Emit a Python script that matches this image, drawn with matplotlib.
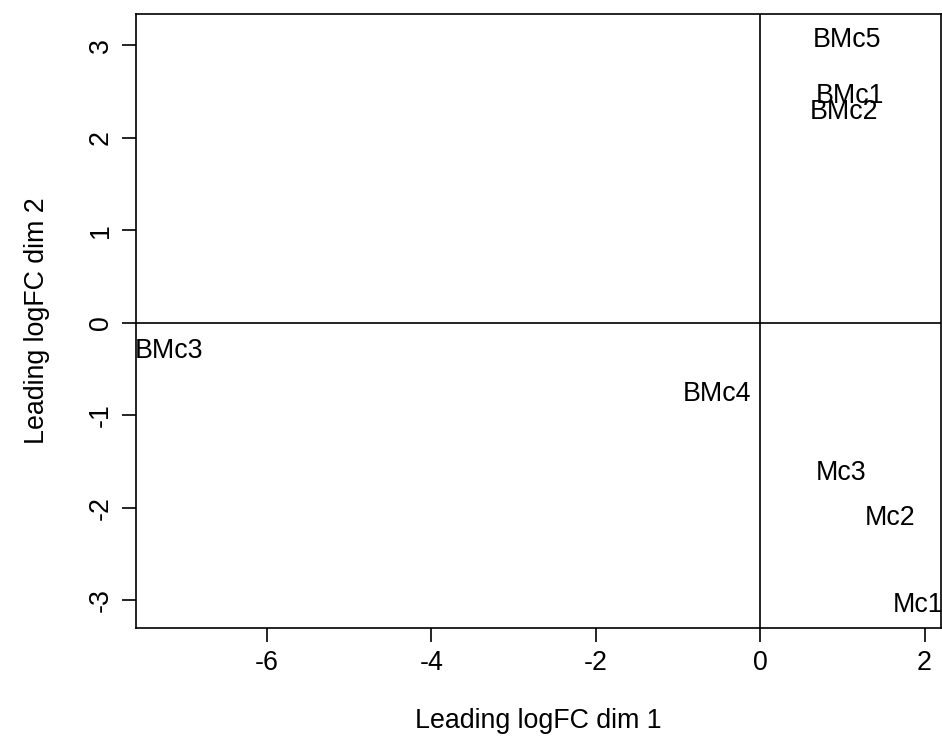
import matplotlib
matplotlib.use("Agg")
import matplotlib.pyplot as plt

labels = ["BMc5", "BMc1", "BMc2", "BMc3", "BMc4", "Mc3", "Mc2", "Mc1"]
dim1 = [1.06, 1.09, 1.02, -7.19, -0.52, 0.99, 1.58, 1.92]
dim2 = [3.06, 2.45, 2.28, -0.30, -0.77, -1.62, -2.11, -3.05]
xticks = [-6, -4, -2, 0, 2]
yticks = [-3, -2, -1, 0, 1, 2, 3]

plt.rcParams['font.family'] = ['Liberation Sans', 'DejaVu Sans']
FS = 19.3

fig = plt.figure(figsize=(9.42, 7.55), dpi=100)
ax = fig.add_axes([136/942, 1-628/755, (941-136)/942, (628-14)/755])
ax.set_xlim(-7.59, 2.20)
ax.set_ylim(-3.30, 3.34)

for lab, x, y in zip(labels, dim1, dim2):
    ax.text(x, y, lab, ha='center', va='center', fontsize=FS, color='black')

ax.axvline(0, color='black', lw=1.2)
ax.axhline(0, color='black', lw=1.2)

ax.set_xticks(xticks)
ax.set_yticks(yticks)
ax.set_xticklabels([str(v) for v in xticks])
ax.set_yticklabels([str(v) for v in yticks], rotation=90, va='center')
ax.tick_params(axis='both', direction='out', length=10, width=1.2, labelsize=FS, pad=6)
for s in ax.spines.values():
    s.set_linewidth(1.2)

ax.set_xlabel("Leading logFC dim 1", fontsize=FS, labelpad=23)
ax.set_ylabel("Leading logFC dim 2", fontsize=FS, labelpad=27)

fig.savefig("out.png", dpi=100)
